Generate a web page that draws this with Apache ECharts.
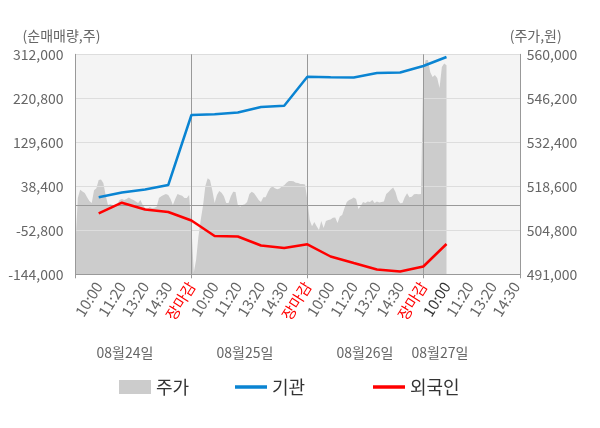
<!DOCTYPE html>
<html><head><meta charset="utf-8">
<script src="https://cdn.jsdelivr.net/npm/echarts@6/dist/echarts.min.js"></script>
<style>html,body{margin:0;padding:0;background:#fff}#c{width:600px;height:428px}</style>
</head><body><div id="c"></div>
<script>
// ---- data ----
const tickLabels = ['10:00', '11:20', '13:20', '14:30', '장마감'];
const dayLabels = ['08월24일', '08월25일', '08월26일', '08월27일'];
const slotsTotal = 193;          // sampled time slots on the x axis (10 per labelled interval)
const dayStarts = [0, 50, 100, 150, 192];

// 주가 (price, 원), sampled per slot
const priceDay1 = [500700, 514900, 517500, 517000, 516500, 515200, 514000, 513400, 517400, 518000,
  520600, 520700, 519600, 515900, 512700, 513000, 512700, 512700, 513000, 514300,
  514600, 514300, 514600, 515100, 514600, 514300, 513800, 513400, 514300, 512700,
  511800, 511500, 512100, 511800, 511900, 512200, 514900, 515500, 515900, 516200,
  515900, 514600, 512700, 514600, 516200, 515900, 515600, 514900, 514900, 515900];
const priceDay2 = [506000, 491500, 495500, 502700, 508000, 512600, 518700, 521100, 520600, 517400,
  513400, 515900, 517100, 516600, 515500, 513400, 513400, 515500, 516900, 516800,
  512700, 512200, 512700, 513000, 513700, 516200, 516900, 516400, 515400, 514300,
  513700, 515200, 515200, 516800, 518100, 518500, 518000, 517700, 517900, 518500,
  518900, 519700, 520300, 520300, 520200, 519700, 519600, 519300, 519300, 519200];
const priceDay3 = [514300, 508000, 506100, 507400, 506100, 504900, 507700, 505500, 507700, 508000,
  508200, 508700, 508800, 507100, 509100, 509600, 511800, 513700, 514300, 514600,
  515100, 514600, 511500, 512400, 513700, 513400, 513800, 513700, 514300, 513400,
  513800, 513500, 513700, 513800, 516200, 516800, 517600, 518200, 516800, 514300,
  513300, 513400, 515200, 516400, 515200, 515300, 516100, 516200, 516100, 516200];
const priceDay4 = [555100, 558200, 558200, 554400, 552900, 553500, 552600, 549400, 556000, 557100, 556600];

// 순매매량 (net volume, 주) at labelled times
const flowSlots = [10, 20, 30, 40, 50, 60, 70, 80, 90, 100, 110, 120, 130, 140, 150, 160];
const institution = [15600, 25500, 31800, 41100, 186200, 187600, 191400, 202800, 205500, 265600,
  264300, 263900, 273200, 274300, 287700, 306400];
const foreign = [-17600, 4400, -9700, -14900, -32500, -64600, -65700, -84300, -89500, -81800,
  -107100, -120600, -134000, -138200, -127800, -81200];

const leftAxisTicks = { min: -144000, max: 312000, step: 91200 };
const rightAxisTicks = { min: 491000, max: 560000, step: 13800 };

// ---- build ----
const categories = [];
for (let i = 0; i < slotsTotal; i++) {
  categories.push(i > 0 && i % 10 === 0 ? tickLabels[(i / 10 - 1) % 5] : '');
}
const price = priceDay1.concat(priceDay2, priceDay3, priceDay4);
const instData = flowSlots.map((s, k) => [s, institution[k]]);
const forData = flowSlots.map((s, k) => [s, foreign[k]]);
const latestOpenSlot = flowSlots[flowSlots.length - 1];

const FONT = '"Noto Sans CJK KR", "Noto Sans", sans-serif';
const chart = echarts.init(document.getElementById('c'), null, { renderer: 'canvas' });
const fmt = v => v.toLocaleString('en-US');
const legendText = { fontSize: 18, color: '#333', fontFamily: FONT };

chart.setOption({
  animation: false,
  textStyle: { fontFamily: FONT },
  grid: { left: 75.5, right: 79.3, top: 54.3, bottom: 153.7, show: true, backgroundColor: '#f4f4f4', borderWidth: 0 },
  xAxis: {
    type: 'category', boundaryGap: false, data: categories, z: 3,
    axisLine: { onZero: false, lineStyle: { color: '#999', width: 1 } },
    axisTick: { show: true, length: 4, interval: i => dayStarts.includes(i), lineStyle: { color: '#999' } },
    axisLabel: {
      rotate: 58, interval: (i, v) => v !== '', margin: 9, fontSize: 15, color: '#666',
      fontFamily: FONT, hideOverlap: false,
      formatter: (v, i) => v === '장마감' ? '{r|' + v + '}' : (i === latestOpenSlot ? '{d|' + v + '}' : v),
      rich: { r: { color: '#ff0000', fontSize: 15, fontFamily: FONT }, d: { color: '#333', fontSize: 15, fontFamily: FONT } }
    },
    splitLine: { show: false }
  },
  yAxis: [{
    type: 'value', position: 'left', z: 3,
    min: leftAxisTicks.min, max: leftAxisTicks.max, interval: leftAxisTicks.step,
    name: '(순매매량,주)', nameLocation: 'end', nameGap: 12,
    nameTextStyle: { color: '#666', fontSize: 14, fontFamily: FONT, padding: [0, 28, 0, 0] },
    axisLine: { show: true, lineStyle: { color: '#999' } },
    axisTick: { show: false },
    axisLabel: { color: '#666', fontSize: 14, margin: 12, formatter: fmt, fontFamily: FONT },
    splitLine: { show: true, lineStyle: { color: '#dddddd', width: 1 } }
  }, {
    type: 'value', position: 'right', z: 3,
    min: rightAxisTicks.min, max: rightAxisTicks.max, interval: rightAxisTicks.step,
    name: '(주가,원)', nameLocation: 'end', nameGap: 12,
    nameTextStyle: { color: '#666', fontSize: 14, fontFamily: FONT, padding: [0, 0, 0, 30] },
    axisLine: { show: true, lineStyle: { color: '#999' } },
    axisTick: { show: false },
    axisLabel: { color: '#666', fontSize: 14, margin: 6, formatter: fmt, fontFamily: FONT },
    splitLine: { show: false }
  }],
  legend: [
    { data: [{ name: '주가', icon: 'rect', itemStyle: { color: '#cccccc' } }], left: 114, top: 373, itemWidth: 32, itemHeight: 14, textStyle: legendText, selectedMode: false },
    { data: [{ name: '기관', icon: 'rect' }], left: 230, top: 373, itemWidth: 32, itemHeight: 3.5, textStyle: legendText, selectedMode: false },
    { data: [{ name: '외국인', icon: 'rect' }], left: 368, top: 373, itemWidth: 32, itemHeight: 3.5, textStyle: legendText, selectedMode: false }
  ],
  graphic: dayLabels.map((t, k) => ({
    type: 'text', x: [125, 245, 365, 440][k], y: 353,
    style: { text: t, fill: '#666', font: '14px ' + FONT, textAlign: 'center', textVerticalAlign: 'middle' }
  })),
  series: [{
    name: '주가', type: 'line', yAxisIndex: 1, data: price, symbol: 'none', z: 1,
    lineStyle: { width: 0 }, itemStyle: { color: '#cccccc' },
    areaStyle: { color: '#cccccc', opacity: 1, origin: 'start' },
    emphasis: { disabled: true }, silent: true
  }, {
    name: '기관', type: 'line', yAxisIndex: 0, data: instData, symbol: 'none', z: 5,
    lineStyle: { color: '#0a84d2', width: 2.5 }, itemStyle: { color: '#0a84d2' },
    emphasis: { disabled: true }, silent: true,
    markLine: {
      silent: true, symbol: ['none', 'none'], label: { show: false },
      lineStyle: { color: '#999', width: 1, type: 'solid' }, emphasis: { disabled: true },
      data: [{ yAxis: 0 }, { xAxis: dayStarts[1] }, { xAxis: dayStarts[2] }, { xAxis: dayStarts[3] }]
    }
  }, {
    name: '외국인', type: 'line', yAxisIndex: 0, data: forData, symbol: 'none', z: 6,
    lineStyle: { color: '#ff0000', width: 2.5 }, itemStyle: { color: '#ff0000' },
    emphasis: { disabled: true }, silent: true
  }]
});
</script></body></html>
